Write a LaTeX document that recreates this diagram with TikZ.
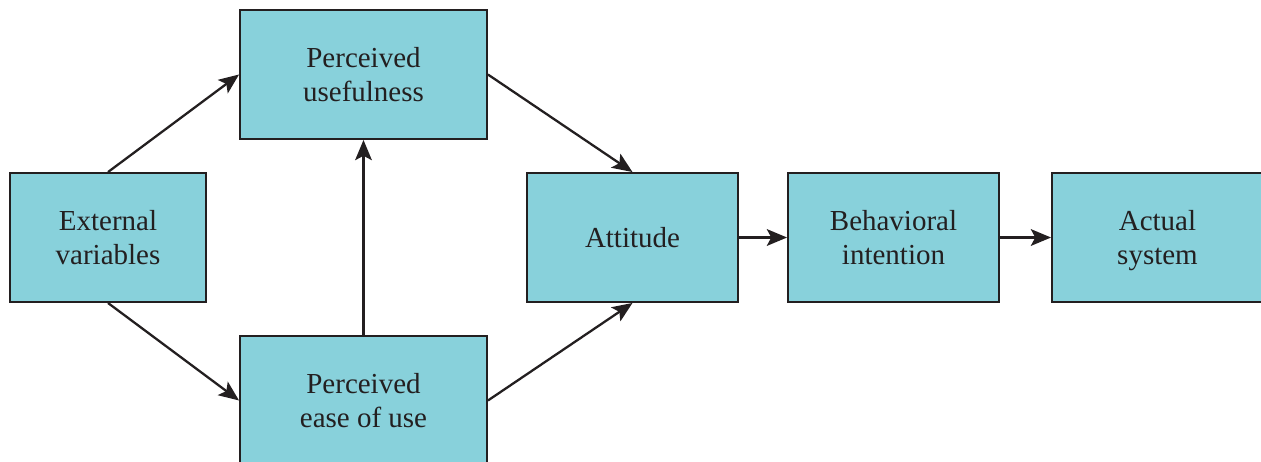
\documentclass[tikz,border=0pt]{standalone}
\usepackage{fontspec}
\setmainfont{Liberation Serif}
\usepackage{xcolor}
\usetikzlibrary{arrows.meta}
\definecolor{boxfill}{RGB}{136,209,219}
\definecolor{boxline}{RGB}{35,31,32}

\tikzset{
    tambox/.style={draw=boxline, fill=boxfill, line width=1.1pt, align=center,
        minimum height=2.58cm, inner sep=0pt,
        font=\fontsize{16.5}{19.5}\selectfont, text=boxline},
    tamarrow/.style={draw=boxline, line width=1.3pt,
        -{Stealth[length=11.5pt, width=9.5pt, inset=2.5pt]}}
}

\begin{document}
\begin{tikzpicture}[x=0.02cm, y=-0.02cm]
            \useasboundingbox (0,0) rectangle (1261,461);
            \clip (0,0) rectangle (1261,461);
            \node[tambox, minimum width=3.92cm] (ext)  at (108, 237.5) {External\\variables};
            \node[tambox, minimum width=4.94cm] (pu)   at (363.5, 74.5) {Perceived\\usefulness};
            \node[tambox, minimum width=4.94cm] (peou) at (363.5, 400.5) {Perceived\\ease of use};
            \node[tambox, minimum width=4.22cm] (att)  at (632.5, 237.5) {Attitude};
            \node[tambox, minimum width=4.22cm] (bi)   at (893.5, 237.5) {Behavioral\\intention};
            \node[tambox, minimum width=4.22cm] (as)   at (1157.5, 237.5) {Actual\\\raisebox{0pt}[\height][0pt]{system}};

            \draw[tamarrow] (ext.north) -- (pu.west);
            \draw[tamarrow] (ext.south) -- (peou.west);
            \draw[tamarrow] (peou.north) -- (pu.south);
            \draw[tamarrow] (pu.east) -- (att.north);
            \draw[tamarrow] (peou.east) -- (att.south);
            \draw[tamarrow] (att.east) -- (bi.west);
            \draw[tamarrow] (bi.east) -- (as.west);
        \end{tikzpicture}
\end{document}
